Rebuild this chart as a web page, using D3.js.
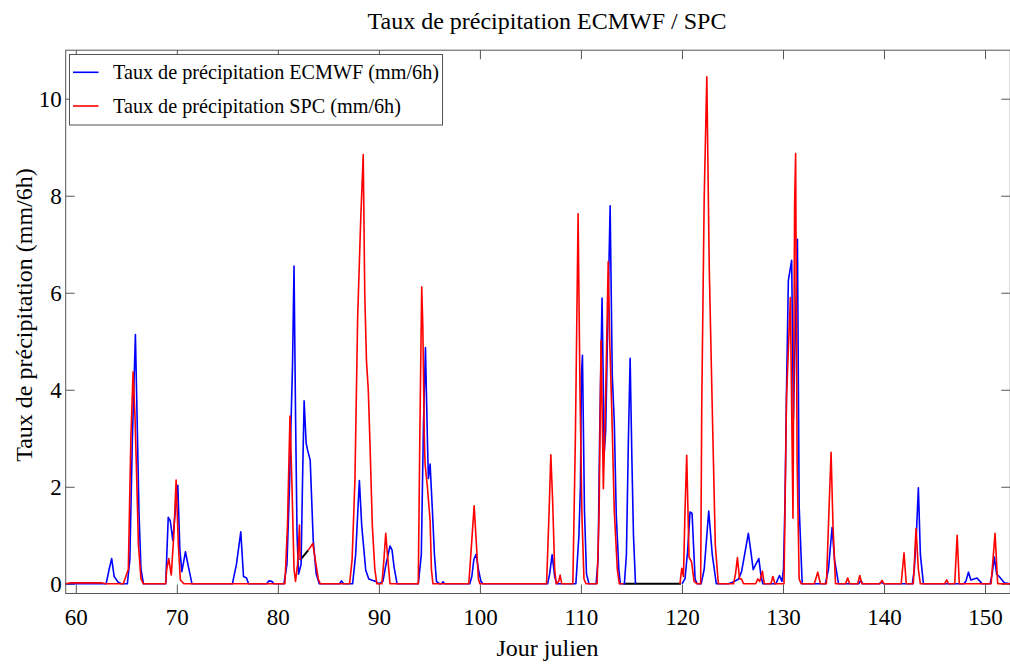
<!DOCTYPE html>
<html><head><meta charset="utf-8">
<script src="https://cdn.jsdelivr.net/npm/d3@7/dist/d3.min.js"></script>
<style>html,body{margin:0;padding:0;background:#fff;}svg{display:block;}</style>
</head><body>
<svg id="c" width="1010" height="664"></svg>
<script>
const title = "Taux de précipitation ECMWF / SPC";
const xLabel = "Jour julien";
const yLabel = "Taux de précipitation (mm/6h)";
const seriesNames = ["Taux de précipitation ECMWF (mm/6h)", "Taux de précipitation SPC (mm/6h)"];
const xTicks = [60,70,80,90,100,110,120,130,140,150];
const yTicks = [0,2,4,6,8,10];

// [jour julien, taux]; null = missing
const ecmwf = [
[59,0],[63.0,0],[63.3,0.3],[63.55,0.52],[63.8,0.15],[64.2,0.03],[64.5,0],
[65.1,0],[65.35,0.5],[65.6,3.0],[65.9,5.14],[66.05,3.6],[66.25,1.5],[66.45,0.3],[66.7,0],
[68.9,0],[69.15,1.37],[69.35,1.3],[69.6,0.9],[69.85,1.5],[70.1,2.03],[70.3,0.7],[70.5,0.25],[70.85,0.66],[71.1,0.4],[71.5,0],
[75.5,0],[75.9,0.4],[76.33,1.07],[76.6,0.15],[76.9,0.12],[77.1,0],
[78.9,0],[79.1,0.06],[79.4,0.05],[79.6,0],
[80.6,0],[80.9,0.4],[81.15,2.0],[81.3,3.3],[81.45,4.5],[81.6,6.55],[81.75,3.5],[81.9,1.0],[82.05,0.2],[82.3,0.4],[82.45,2.2],[82.6,3.77],[82.8,2.9],[82.95,2.75],[83.2,2.55],[83.5,0.9],[83.8,0.2],[84.1,0],
[86.1,0],[86.3,0.06],[86.5,0],
[87.4,0],[87.7,0.6],[88.07,2.13],[88.3,1.2],[88.7,0.28],[89.0,0.1],[89.4,0.07],[89.7,0.05],[90.0,0],[90.4,0.05],[90.7,0.4],[91.1,0.78],[91.3,0.7],[91.5,0.35],[91.8,0],
[93.9,0],[94.2,0.6],[94.41,3.23],[94.61,4.87],[94.8,3.0],[94.9,2.17],[95.07,2.47],[95.3,1.5],[95.5,0.6],[95.7,0.05],[96.0,0],
[96.2,0],[96.35,0.04],[96.5,0],
[99.0,0],[99.2,0.15],[99.4,0.5],[99.62,0.61],[99.85,0.3],[100.1,0.05],[100.3,0],
[106.7,0],[106.9,0.2],[107.15,0.6],[107.4,0.15],[107.6,0],
[109.5,0],[109.8,1.0],[109.95,2.0],[110.05,4.3],[110.15,4.71],[110.35,1.5],[110.55,0.2],[110.8,0],
[111.5,0],[111.7,0.5],[111.85,3.0],[112.09,5.89],[112.2,4.3],[112.3,2.69],[112.45,3.15],[112.6,4.8],[112.89,7.79],[113.1,4.3],[113.3,3.34],[113.5,1.4],[113.75,0.3],[113.9,0],
[114.3,0],[114.5,0.6],[114.7,3.0],[114.87,4.65],[115.05,2.5],[115.2,1.0],[115.4,0],
[115.5,null],
[120.0,0],[120.3,0.1],[120.55,0.65],[120.8,1.48],[121.0,1.45],[121.3,0.1],[121.5,0],
[121.9,0],[122.2,0.3],[122.65,1.5],[123.0,0.6],[123.4,0],
[124.6,0],[125.2,0.05],[125.6,0.1],[125.9,0.25],[126.2,0.6],[126.57,1.04],[126.8,0.7],[127.05,0.29],[127.3,0.4],[127.61,0.52],[127.8,0.2],[128.0,0],
[129.3,0],[129.65,0.17],[129.9,0.05],[130.05,0.3],[130.2,1.7],[130.35,4.0],[130.53,6.25],[130.86,6.67],[131.03,3.41],[131.25,5.5],[131.43,7.1],[131.6,1.6],[131.9,0],
[134.2,0],[134.5,0.3],[134.86,1.16],[135.1,0.5],[135.5,0],
[137.5,0],[137.7,0.07],[137.9,0],
[139.5,0],[139.7,0.03],[140.0,0],
[142.8,0],[143.0,0.3],[143.2,1.0],[143.4,1.98],[143.6,0.6],[143.9,0],
[147.9,0],[148.1,0.05],[148.36,0.24],[148.6,0.08],[148.9,0.1],[149.2,0.12],[149.5,0.05],[149.7,0],
[150.5,0],[150.7,0.2],[150.92,0.55],[151.15,0.2],[151.4,0.15],[151.6,0.1],[151.9,0.02],[152.5,0]
];

const spc = [
[59,0],[59.5,0.02],[62.5,0.02],[63.0,0],[64.7,0],[65.2,0.3],[65.45,3.0],[65.67,4.37],[65.85,3.5],[66.0,2.4],[66.2,0.8],[66.45,0.1],[66.7,0],
[68.9,0],[69.0,0.3],[69.2,0.52],[69.45,0.18],[69.7,1.0],[69.93,2.14],[70.15,0.8],[70.35,0.08],[70.7,0],
[80.7,0],[80.95,1.2],[81.2,3.46],[81.4,2.0],[81.6,0.3],[81.75,0.05],[81.95,0.4],[82.14,1.21],[82.2,0.49],
[82.6,null],
[83.0,0.69],[83.2,0.75],[83.46,0.83],[83.7,0.5],[84.0,0.1],[84.2,0],
[87.1,0],[87.35,0.5],[87.63,2.14],[87.9,5.5],[88.2,7.5],[88.45,8.85],[88.6,6.0],[88.77,4.6],[88.95,4.0],[89.13,2.82],[89.35,1.2],[89.6,0.3],[89.8,0],
[90.3,0],[90.5,0.5],[90.68,1.04],[90.85,0.6],[91.1,0],
[93.9,0],[94.05,3.0],[94.24,6.12],[94.35,5.3],[94.5,3.0],[94.57,2.48],[94.8,2.0],[95.07,1.31],[95.2,0.3],[95.35,0],
[98.9,0],[99.2,0.9],[99.43,1.61],[99.6,1.0],[99.85,0.1],[100.0,0],
[106.6,0],[106.85,1.5],[107.02,2.66],[107.2,1.7],[107.4,0.3],[107.55,0],[107.8,0.05],[107.94,0.18],[108.1,0],
[109.2,0],[109.45,3.0],[109.72,7.63],[109.9,4.06],[110.1,1.4],[110.3,0.1],[110.5,0],
[111.6,0],[111.8,1.5],[111.99,5.02],[112.22,1.96],[112.45,3.9],[112.7,6.64],[112.85,5.0],[113.05,3.6],[113.3,1.5],[113.6,0.3],[113.8,0],[114.2,0],
[117.0,null],
[119.8,0],[119.98,0.32],[120.15,0.15],[120.3,1.5],[120.47,2.65],[120.7,0.55],[120.95,0.45],[121.2,0.05],[121.5,0],
[121.85,0],[121.96,3.7],[122.2,7.95],[122.46,10.45],[122.7,6.53],[122.99,3.7],[123.3,0.8],[123.6,0],
[125.1,0],[125.3,0.2],[125.49,0.54],[125.7,0.1],[125.9,0.1],[126.1,0],
[127.3,0],[127.5,0.1],[127.7,0.05],[127.96,0.26],[128.15,0],[128.8,0],[129.0,0.15],[129.2,0],
[130.1,0],[130.35,3.84],[130.73,5.9],[130.99,1.35],[131.15,7.81],[131.25,8.87],[131.4,2.5],[131.6,0.1],[131.8,0],
[133.1,0],[133.44,0.24],[133.7,0],
[134.3,0],[134.55,1.5],[134.76,2.71],[134.95,1.2],[135.2,0],
[136.2,0],[136.4,0.12],[136.6,0],[137.4,0],[137.6,0.17],[137.8,0],
[139.6,0],[139.8,0.07],[140.0,0],
[141.7,0],[141.98,0.64],[142.2,0],
[142.9,0],[143.17,1.14],[143.4,0.3],[143.6,0],
[146.0,0],[146.2,0.08],[146.4,0],
[147.0,0],[147.24,1.0],[147.45,0],
[150.6,0],[150.99,1.04],[151.25,0],[152.5,0]
];

// segments drawn in black underneath (missing data)
const gapSegments = [
  [[82.2,0.49],[83.0,0.69]],
  [[114.2,0],[119.9,0]]
];

const svg = d3.select("#c");
const L = 65.7, R = 1010.3, T = 50.2, B = 593.5;
const x = d3.scaleLinear().domain([59, 152.5]).range([L, R]);
const y = d3.scaleLinear().domain([-0.2, 11]).range([B, T]);
const font = "'Liberation Serif', 'Times New Roman', serif";
const axisCol = "#555";

svg.append("rect").attr("x", L).attr("y", T).attr("width", R - L).attr("height", B - T)
  .attr("fill", "none").attr("stroke", axisCol).attr("stroke-width", 1);

const tl = 9;
const gx = svg.append("g").attr("transform", `translate(0,${B})`)
  .call(d3.axisBottom(x).tickValues(xTicks).tickSizeInner(-tl).tickSizeOuter(0).tickPadding(15));
const gxTop = svg.append("g").attr("transform", `translate(0,${T})`)
  .call(d3.axisTop(x).tickValues(xTicks).tickSizeInner(-tl).tickSizeOuter(0).tickFormat(""));
const gy = svg.append("g").attr("transform", `translate(${L},0)`)
  .call(d3.axisLeft(y).tickValues(yTicks).tickSizeInner(-tl).tickSizeOuter(0).tickPadding(4));
const gyR = svg.append("g").attr("transform", `translate(${R},0)`)
  .call(d3.axisRight(y).tickValues(yTicks).tickSizeInner(-tl).tickSizeOuter(0).tickFormat(""));
[gx, gxTop, gy, gyR].forEach(g => {
  g.select(".domain").remove();
  g.selectAll(".tick line").attr("stroke", axisCol);
  g.selectAll("text").attr("font-family", font).attr("font-size", 23).attr("fill", "#000");
});
gx.selectAll("text").attr("dy", "0.71em");

const line = d3.line().defined(d => d[1] !== null).x(d => x(d[0])).y(d => y(d[1]));

const plot = svg.append("g");
gapSegments.forEach(s => plot.append("path").datum(s).attr("d", line)
  .attr("fill", "none").attr("stroke", "#000").attr("stroke-width", 2));
plot.append("path").datum(ecmwf).attr("d", line).attr("fill", "none")
  .attr("stroke", "#0000ff").attr("stroke-width", 1.6).attr("stroke-linejoin", "round");
plot.append("path").datum(spc).attr("d", line).attr("fill", "none")
  .attr("stroke", "#ff0000").attr("stroke-width", 1.6).attr("stroke-linejoin", "round");

const lg = svg.append("g");
lg.append("rect").attr("x", 69.5).attr("y", 54.5).attr("width", 373).attr("height", 70.5)
  .attr("fill", "#fff").attr("stroke", axisCol).attr("stroke-width", 1);
const colors = ["#0000ff", "#ff0000"];
const ly = [72.3, 106];
seriesNames.forEach((n, i) => {
  lg.append("line").attr("x1", 73).attr("x2", 98.5).attr("y1", ly[i]).attr("y2", ly[i])
    .attr("stroke", colors[i]).attr("stroke-width", 1.6);
  lg.append("text").attr("x", 113).attr("y", ly[i] + 7).text(n)
    .attr("font-family", font).attr("font-size", 20.2).attr("fill", "#000");
});

svg.append("text").attr("x", 547).attr("y", 29).attr("text-anchor", "middle")
  .attr("font-family", font).attr("font-size", 24).text(title);
svg.append("text").attr("x", 547.5).attr("y", 656).attr("text-anchor", "middle")
  .attr("font-family", font).attr("font-size", 24).text(xLabel);
svg.append("text").attr("transform", "translate(32,315) rotate(-90)").attr("text-anchor", "middle")
  .attr("font-family", font).attr("font-size", 24).text(yLabel);
</script>
</body></html>
